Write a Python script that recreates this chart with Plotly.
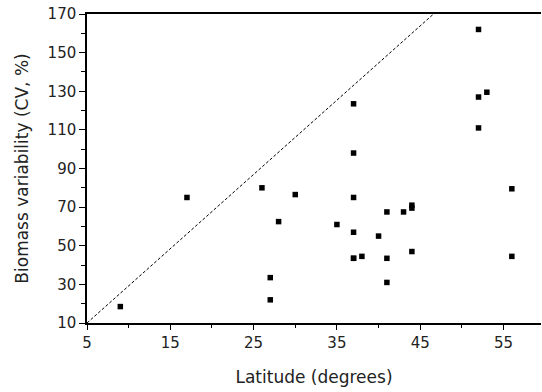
import plotly.graph_objects as go

latitude = [9, 17, 26, 27, 27, 28, 30, 35, 37, 37, 37, 37, 37, 37, 38, 40, 41, 41, 41,
            43, 44, 44, 44, 52, 52, 52, 53, 56, 56]
cv = [18.5, 75, 80, 33.5, 22, 62.5, 76.5, 61, 123.5, 98, 75, 57, 43.5, 43.5, 44.5, 55, 67.5, 43.5, 31,
      67.5, 71, 69.5, 47, 162, 127, 111, 129.5, 79.5, 44.5]

line_x = [5, 46.6]
line_y = [10, 170]

x_ticks = [5, 15, 25, 35, 45, 55]
y_ticks = [10, 30, 50, 70, 90, 110, 130, 150, 170]

font = "DejaVu Sans"

fig = go.Figure()
fig.add_trace(go.Scatter(x=line_x, y=line_y, mode="lines",
                         line=dict(color="black", width=1, dash="3px,2px"),
                         hoverinfo="skip"))
fig.add_trace(go.Scatter(x=latitude, y=cv, mode="markers",
                         marker=dict(symbol="square", size=5.5, color="black",
                                     line=dict(width=0))))

fig.update_layout(
    width=542, height=392,
    margin=dict(l=87, r=1, t=14, b=69),
    paper_bgcolor="white", plot_bgcolor="white",
    showlegend=False,
    font=dict(family=font, color="#222", size=15),
)
fig.update_xaxes(
    automargin=False,
    range=[5, 59.5], tickvals=x_ticks, ticktext=[str(v) for v in x_ticks],
    showgrid=False, zeroline=False,
    showline=True, linecolor="black", linewidth=1.5, mirror=True,
    ticks="outside", ticklen=5, tickwidth=1, tickcolor="black",
    minor=dict(dtick=5, tick0=0, ticks="outside", ticklen=3, tickcolor="black", showgrid=False),
    tickfont=dict(size=15, family=font),
    title=dict(text="Latitude (degrees)", font=dict(size=17, family=font), standoff=20),
)
fig.update_yaxes(
    automargin=False,
    range=[10, 170], tickvals=y_ticks, ticktext=[str(v) for v in y_ticks],
    showgrid=False, zeroline=False,
    showline=True, linecolor="black", linewidth=1.5, mirror=False,
    ticks="outside", ticklen=6, tickwidth=1, tickcolor="black",
    minor=dict(dtick=10, tick0=0, ticks="outside", ticklen=4, tickcolor="black", showgrid=False),
    tickfont=dict(size=15, family=font),
    title=dict(text="Biomass variability (CV, %)", font=dict(size=17, family=font), standoff=15),
)

fig.write_html(
    "out.html",
    config={"displayModeBar": False},
    post_script="document.body.style.margin='0';document.body.style.overflow='hidden';",
)
